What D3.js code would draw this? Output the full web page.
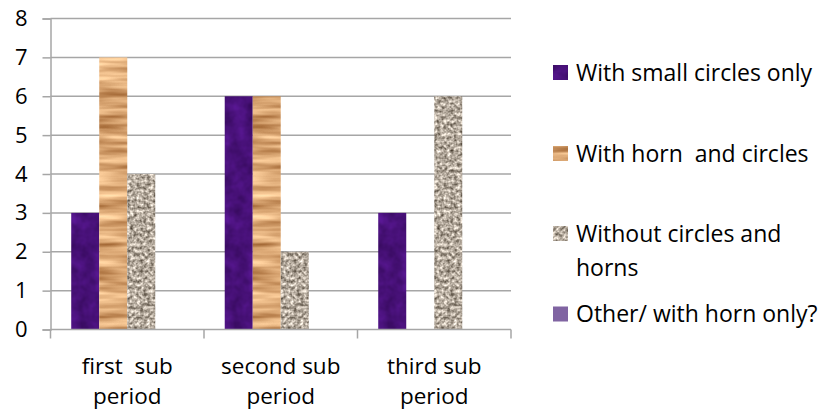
<!DOCTYPE html>
<html><head><meta charset="utf-8">
<script src="https://cdn.jsdelivr.net/npm/d3@7/dist/d3.min.js"></script>
<style>
html,body{margin:0;padding:0;background:#fff;}
svg text{font-family:"Open Sans","Noto Sans",sans-serif;fill:#000;white-space:pre;}
</style></head>
<body>
<svg id="chart" width="826" height="410"></svg>
<script>
// ---- data ----
const categories = ["first  sub period", "second sub period", "third sub period"];
const categoryLines = [["first  sub", "period"], ["second sub", "period"], ["third sub", "period"]];
const seriesNames = ["With small circles only", "With horn  and circles", "Without circles and horns", "Other/ with horn only?"];
const legendLines = [["With small circles only"], ["With horn  and circles"], ["Without circles and", "horns"], ["Other/ with horn only?"]];
const smallCirclesOnly = [3, 6, 3];
const hornAndCircles = [7, 6, 0];
const withoutCirclesHorns = [4, 2, 6];
const otherHornOnly = [0, 0, 0];
const seriesValues = [smallCirclesOnly, hornAndCircles, withoutCirclesHorns, otherHornOnly];
const yTicks = [0, 1, 2, 3, 4, 5, 6, 7, 8];

// ---- layout ----
const svg = d3.select("#chart");
const plotLeft = 50.5, plotRight = 511, plotTop = 18.5, plotBottom = 329.5;

const defs = svg.append("defs");
function texFilter(id, freq, oct, seed, rows) {
  const f = defs.append("filter").attr("id", id)
    .attr("x", 0).attr("y", 0).attr("width", 1).attr("height", 1)
    .attr("color-interpolation-filters", "sRGB");
  f.append("feTurbulence").attr("type", "fractalNoise").attr("baseFrequency", freq)
    .attr("numOctaves", oct).attr("seed", seed).attr("result", "n");
  f.append("feColorMatrix").attr("in", "n").attr("type", "matrix").attr("values", rows).attr("result", "c");
  f.append("feComposite").attr("in", "c").attr("in2", "SourceGraphic").attr("operator", "in");
}
// purple velvet
texFilter("tex0", "0.07", 3, 4,
  "0.18 0 0 0 0.19  0.07 0 0 0 0.03  0.28 0 0 0 0.33  0 0 0 0 1");
// wood
texFilter("tex1", "0.012 0.11", 3, 7,
  "0.7 0 0 0 0.51  0.8 0 0 0 0.26  0.8 0 0 0 0.06  0 0 0 0 1");
// granite
texFilter("tex2", "0.3", 2, 11,
  "1.05 0 0 0 0.18  1.05 0 0 0 0.14  1.05 0 0 0 0.09  0 0 0 0 1");
const seriesFill = ["#46127a", "#d9a570", "#b5a898", "#8064a2"];
const seriesFilter = ["url(#tex0)", "url(#tex1)", "url(#tex2)", null];

const x0 = d3.scaleBand().domain(categories).range([plotLeft, plotRight]).padding(0);
const x1 = d3.scaleBand().domain(d3.range(seriesNames.length)).range([0, x0.bandwidth()])
  .paddingInner(0).paddingOuter(0.74);
const y = d3.scaleLinear().domain([0, 8]).range([plotBottom, plotTop]);

// gridlines
svg.append("g").selectAll("line").data(yTicks.filter(d => d > 0)).join("line")
  .attr("x1", plotLeft).attr("x2", plotRight)
  .attr("y1", d => y(d)).attr("y2", d => y(d))
  .attr("stroke", "#a6a6a6").attr("stroke-width", 1.5);

// y axis
const yAxis = svg.append("g").attr("transform", `translate(${plotLeft},0)`)
  .call(d3.axisLeft(y).tickValues(yTicks).tickSize(8).tickPadding(15).tickFormat(d3.format("d")));
yAxis.select(".domain").attr("stroke", "#a6a6a6").attr("stroke-width", 1.5);
yAxis.selectAll(".tick line").attr("stroke", "#a6a6a6").attr("stroke-width", 1.5);
yAxis.selectAll(".tick text").attr("font-size", 22).attr("font-family", "Open Sans").attr("fill", "#000");

// bars
const groups = svg.append("g").selectAll("g").data(categories).join("g")
  .attr("transform", d => `translate(${x0(d)},0)`);
groups.selectAll("rect")
  .data((c, ci) => seriesValues.map((vals, si) => ({si, v: vals[ci]})).filter(d => d.v > 0))
  .join("rect")
  .attr("x", d => x1(d.si)).attr("width", x1.bandwidth())
  .attr("y", d => y(d.v)).attr("height", d => y(0) - y(d.v))
  .attr("fill", d => seriesFill[d.si])
  .attr("filter", d => seriesFilter[d.si]);

// x axis
const xAxisG = svg.append("g");
xAxisG.append("line").attr("x1", plotLeft).attr("x2", plotRight).attr("y1", y(0)).attr("y2", y(0))
  .attr("stroke", "#a6a6a6").attr("stroke-width", 1.5);
const bounds = categories.map(c => x0(c)).concat([plotRight]);
xAxisG.selectAll("line.tk").data(bounds).join("line").attr("class", "tk")
  .attr("x1", d => d).attr("x2", d => d).attr("y1", y(0)).attr("y2", y(0) + 9)
  .attr("stroke", "#a6a6a6").attr("stroke-width", 1.5);
const xl = xAxisG.selectAll("text").data(categories).join("text")
  .attr("x", d => x0(d) + x0.bandwidth() / 2)
  .attr("text-anchor", "middle").attr("font-size", 22.5);
xl.selectAll("tspan").data((d, i) => categoryLines[i]).join("tspan")
  .attr("x", function() { return this.parentNode.getAttribute("x"); })
  .attr("y", (d, i) => 374 + i * 30).text(d => d);

// legend
const legY = [72.5, 153.5, 233.5, 314];
const leg = svg.append("g").selectAll("g").data(seriesNames).join("g")
  .attr("transform", (d, i) => `translate(553,${legY[i]})`);
leg.append("rect").attr("x", 0).attr("y", -7.5).attr("width", 15).attr("height", 15)
  .attr("fill", (d, i) => seriesFill[i]).attr("filter", (d, i) => seriesFilter[i]);
leg.append("text").attr("font-size", 23)
  .selectAll("tspan").data((d, i) => legendLines[i]).join("tspan")
  .attr("x", 23).attr("y", (d, i) => 8 + i * 34).text(d => d);
</script>
</body></html>
